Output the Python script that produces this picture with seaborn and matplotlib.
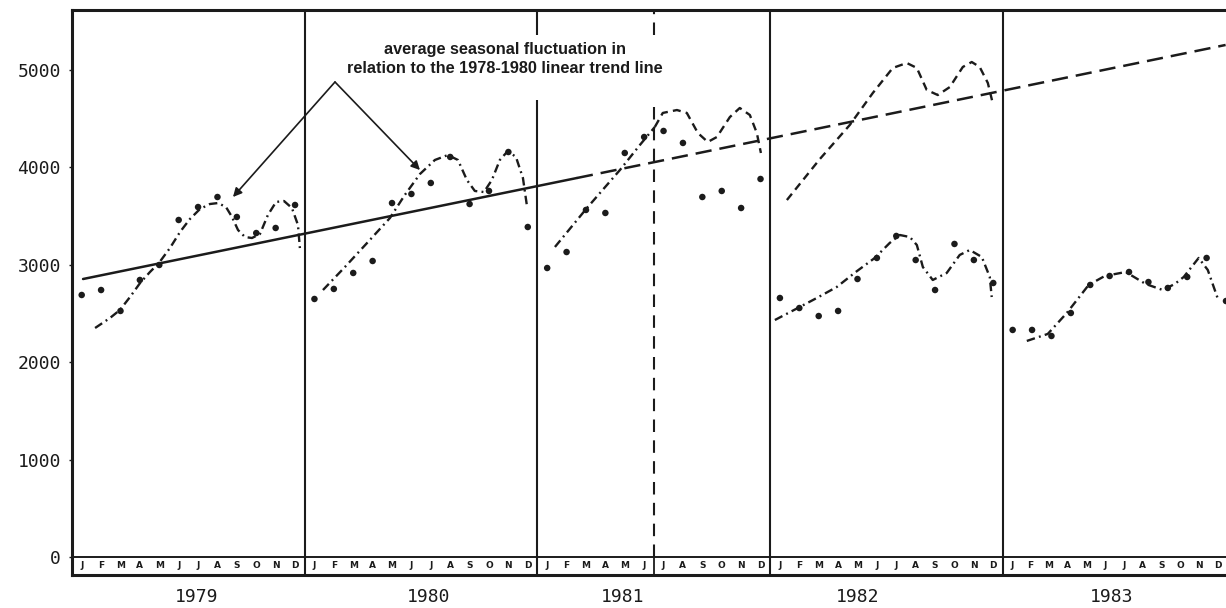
import numpy as np
import pandas as pd
import matplotlib
matplotlib.use("Agg")
import matplotlib.pyplot as plt
import seaborn as sns

# monthly values, one list per year
years = [1979, 1980, 1981, 1982, 1983]
month_letters = ["J", "F", "M", "A", "M", "J", "J", "A", "S", "O", "N", "D"]
sales_1979 = [2690, 2741, 2526, 2844, 2998, 3460, 3593, 3696, 3491, 3326, 3378, 3614]
sales_1980 = [2649, 2752, 2916, 3039, 3634, 3727, 3840, 4107, 3624, 3758, 4158, 3388]
sales_1981 = [2967, 3131, 3563, 3532, 4148, 4312, 4374, 4251, 3696, 3758, 3583, 3881]
sales_1982 = [2659, 2556, 2474, 2526, 2854, 3070, 3296, 3049, 2741, 3214, 3049, 2813]
sales_1983 = [2331, 2331, 2269, 2505, 2793, 2885, 2926, 2823, 2762, 2875, 3070, 2628]

# seasonal curves (x in months from Jan 1979)
season79_t = [1.19, 1.96, 2.47, 2.99, 3.51, 4.02, 4.48, 5.05, 5.57, 6.08, 6.60, 7.11, 7.53,
              7.94, 8.25, 8.56, 8.92, 9.28, 9.69, 10.10, 10.52, 10.93, 11.34, 11.65, 11.75]
season79_v = [2351, 2454, 2536, 2669, 2813, 2926, 3018, 3172, 3337, 3470, 3573, 3624, 3634,
              3593, 3491, 3357, 3285, 3275, 3316, 3511, 3645, 3655, 3583, 3409, 3172]
season80_t = [12.94, 14.07, 15.26, 16.39, 17.16, 17.94, 18.71, 19.38, 19.90, 20.36, 20.77,
              21.24, 21.65, 22.06, 22.47, 22.89, 23.25, 23.45]
season80_v = [2741, 2977, 3234, 3480, 3717, 3932, 4076, 4127, 4076, 3871, 3758,
              3747, 3871, 4076, 4168, 4107, 3891, 3614]
season81_t = [24.90, 26.55, 28.25, 29.28, 30.05]
season81_v = [3183, 3583, 3973, 4230, 4415]
season82_t = [36.24, 37.42, 38.40, 39.43, 40.41, 41.39, 42.16, 42.68, 43.20, 43.56, 43.87,
              44.38, 45.10, 45.77, 46.29, 46.91, 47.32, 47.42]
season82_v = [2433, 2556, 2659, 2772, 2926, 3070, 3224, 3306, 3285, 3203, 2977,
              2844, 2916, 3101, 3152, 3080, 2875, 2669]
season83_t = [49.23, 50.31, 51.29, 52.42, 53.25, 54.33, 55.36, 56.24, 56.86, 57.32, 58.09,
              58.56, 59.12]
season83_v = [2218, 2290, 2505, 2793, 2885, 2926, 2803, 2741, 2803, 2875, 3070, 2947, 2628]

# projected curves (dashed)
proj81_t = [30.05, 30.46, 31.19, 31.70, 32.27, 32.78, 33.25, 33.92, 34.43, 34.95, 35.31, 35.52]
proj81_v = [4415, 4559, 4589, 4559, 4353, 4261, 4312, 4517, 4610, 4538, 4353, 4148]
proj82_t = [36.86, 38.56, 40.10, 41.29, 42.32, 43.04, 43.56, 44.07, 44.64, 45.26, 45.93,
            46.39, 46.80, 47.22, 47.47]
proj82_v = [3665, 4086, 4435, 4764, 5021, 5072, 5021, 4795, 4743, 4825, 5031,
            5082, 5031, 4867, 4661]

# linear trend: start, end of solid part, end of dashed part
trend_t = [0.57, 26.03, 59.48]
trend_v = [2854, 3891, 5257]

yticks = [0, 1000, 2000, 3000, 4000, 5000]
note = "average seasonal fluctuation in\nrelation to the 1978-1980 linear trend line"

ink = "#1b1b1b"
sns.set_theme(style="white")
plt.rcParams["font.family"] = ["DejaVu Sans"]

fig = plt.figure(figsize=(12.26, 6.08), dpi=100)
ax = fig.add_axes([72 / 1226, 1 - 575 / 608, 1 - 72 / 1226, 565 / 608])
ymin, ymax = -185, 5616

all_sales = sales_1979 + sales_1980 + sales_1981 + sales_1982 + sales_1983
df = pd.DataFrame({"t": np.arange(len(all_sales)) + 0.5, "sales": all_sales})
sns.scatterplot(data=df, x="t", y="sales", color=ink, s=22, edgecolor="none", ax=ax, zorder=5)

dashdot = (0, (3.6, 1.8, 0.8, 1.8))
for t, v in [(season79_t, season79_v), (season80_t, season80_v), (season81_t, season81_v),
             (season82_t, season82_v), (season83_t, season83_v)]:
    sns.lineplot(x=t, y=v, ax=ax, color=ink, lw=1.7, linestyle=dashdot, estimator=None, sort=False)
for t, v in [(proj81_t, proj81_v), (proj82_t, proj82_v)]:
    sns.lineplot(x=t, y=v, ax=ax, color=ink, lw=1.7, linestyle=(0, (3.4, 2.2)),
                 estimator=None, sort=False)

sns.lineplot(x=trend_t[:2], y=trend_v[:2], ax=ax, color=ink, lw=1.8, estimator=None)
sns.lineplot(x=trend_t[1:], y=trend_v[1:], ax=ax, color=ink, lw=1.8,
             linestyle=(0, (6.5, 3.2)), estimator=None)

# year separators (the ones behind the note are broken)
for x in [12, 36, 48]:
    ax.vlines(x, ymin, ymax, color=ink, lw=1.5)
ax.vlines([24, 24], [ymin, 5359], [4692, ymax], color=ink, lw=1.5)
ax.vlines([30, 30], [0, 5359], [4641, ymax], color=ink, lw=1.5, linestyles=(0, (6, 4)))
ax.vlines(30, ymin, 0, color=ink, lw=1.3)
ax.axhline(0, color=ink, lw=1.4)

for i in range(len(years) * 12):
    yr, m = divmod(i, 12)
    # the last year's letters are packed a little tighter in the original
    x = i + 0.5 if yr < 4 else 48.45 + m * 0.965
    ax.text(x, -92, month_letters[m], ha="center", va="center",
            fontsize=6.5, fontweight="bold", color=ink)

year_x = [6.4, 18.4, 28.4, 40.5, 53.6]
for x, yr in zip(year_x, years):
    ax.text(x, -410, str(yr), ha="center", va="center", fontsize=13,
            family="DejaVu Sans Mono", color=ink, clip_on=False)

ax.text(22.3, 5113, note, ha="center", va="center", fontsize=11.7, fontweight="bold",
        family="Liberation Sans", color=ink, linespacing=1.3)
for tip in [(8.3, 3696), (17.94, 3973)]:
    ax.annotate("", xy=tip, xytext=(13.56, 4877),
                arrowprops=dict(arrowstyle="-|>", color=ink, lw=1.2, mutation_scale=13,
                                shrinkA=0, shrinkB=0))

ax.set_xlim(0, 59.5)
ax.set_ylim(ymin, ymax)
ax.set_xticks([])
ax.set_yticks(yticks)
ax.set_yticklabels([str(y) for y in yticks], family="DejaVu Sans Mono", fontsize=13, color=ink)
ax.tick_params(axis="y", length=2, width=1, pad=6, left=True, color=ink)
ax.set_xlabel("")
ax.set_ylabel("")
for side in ["top", "left", "bottom"]:
    ax.spines[side].set_color(ink)
    ax.spines[side].set_linewidth(2.2)
ax.spines["right"].set_visible(False)

fig.savefig("out.png", dpi=100)
